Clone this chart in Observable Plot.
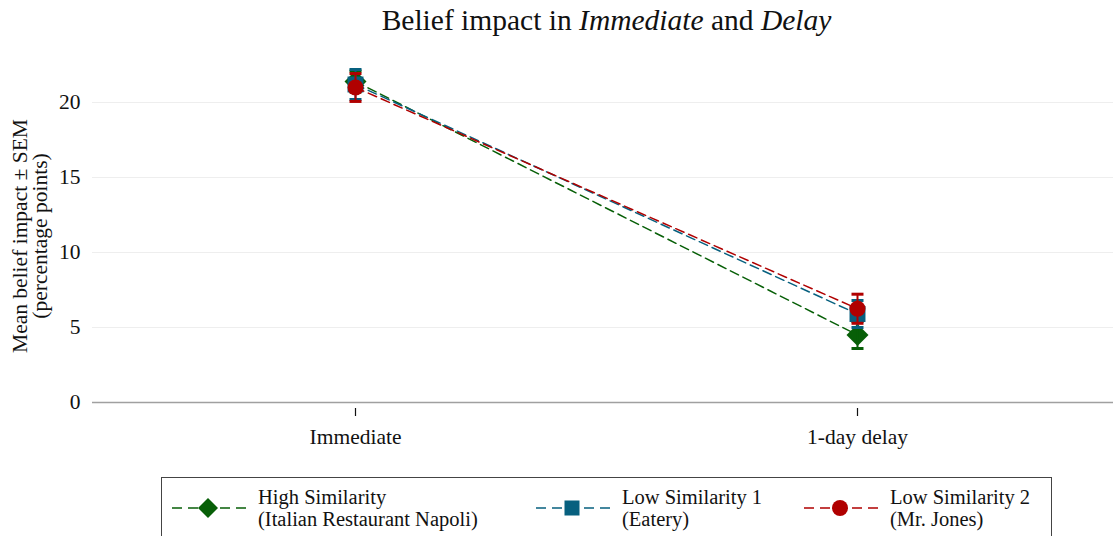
<!DOCTYPE html>
<html>
<head>
<meta charset="utf-8">
<script src="https://cdn.jsdelivr.net/npm/d3@7"></script>
<script src="https://cdn.jsdelivr.net/npm/@observablehq/plot@0.6"></script>
<style>
  html, body { margin: 0; padding: 0; background: #fff; }
  body { width: 1113px; height: 536px; position: relative; overflow: hidden; font-family: "Liberation Serif", "DejaVu Serif", serif; color: #111; }
  #title { position: absolute; top: 4px; left: 96px; width: 1021px; text-align: center; font-size: 29.5px; }
  #chart { position: absolute; top: 48px; left: 0; }
  #ylab { position: absolute; left: 30px; top: 236px; width: 400px; transform: translate(-50%, -50%) rotate(-90deg); text-align: center; font-size: 21.5px; line-height: 20px; }
  #legend { position: absolute; left: 161px; top: 477px; width: 891px; height: 70px; border: 1.5px solid #444; box-sizing: border-box; }
  .item { position: absolute; top: 8px; display: flex; align-items: center; }
  .item svg { display: block; }
  .item .txt { font-size: 20.5px; line-height: 22px; margin-left: 6px; white-space: nowrap; }
</style>
</head>
<body>
<div id="title">Belief impact in <i>Immediate</i> and <i>Delay</i></div>
<div id="ylab">Mean belief impact ± SEM<br>(percentage points)</div>
<div id="chart"></div>
<div id="legend"></div>
<script>
const categories = ["Immediate", "1-day delay"];
const seriesNames = ["High Similarity", "Low Similarity 1", "Low Similarity 2"];
const seriesSub = ["(Italian Restaurant Napoli)", "(Eatery)", "(Mr. Jones)"];
const seriesColors = ["#075f07", "#07607f", "#b00000"];
const seriesSymbols = ["diamond2", "square", "circle"];
const yTicks = [0, 5, 10, 15, 20];

const highMean = [21.4, 4.5];
const highSem = [0.7, 0.9];
const low1Mean = [21.2, 5.9];
const low1Sem = [1.0, 0.9];
const low2Mean = [21.0, 6.25];
const low2Sem = [0.93, 0.97];

const means = [highMean, low1Mean, low2Mean];
const sems = [highSem, low1Sem, low2Sem];

const rows = [];
seriesNames.forEach((s, i) => {
  categories.forEach((c, j) => {
    rows.push({series: s, idx: i, cat: c, mean: means[i][j], lo: means[i][j] - sems[i][j], hi: means[i][j] + sems[i][j]});
  });
});

const symR = {diamond2: 9.9, square: 9.0, circle: 8};
const capSymbol = {draw(ctx) { ctx.moveTo(-6, 0); ctx.lineTo(6, 0); }};

const marks = [
  Plot.ruleY(yTicks.filter(d => d > 0), {stroke: "#eeeeee", strokeWidth: 1}),
  Plot.ruleY([0], {stroke: "#a0a0a0", strokeWidth: 1.3}),
];
seriesNames.forEach((s, i) => {
  const data = rows.filter(r => r.idx === i);
  const col = seriesColors[i];
  marks.push(
    Plot.line(data, {x: "cat", y: "mean", stroke: col, strokeWidth: 1.5, strokeDasharray: "9,5"}),
    Plot.dot(data, {x: "cat", y: "mean", fill: col, stroke: "none", symbol: seriesSymbols[i], r: symR[seriesSymbols[i]]}),
    Plot.ruleX(data, {x: "cat", y1: "lo", y2: "hi", stroke: col, strokeWidth: 2}),
    Plot.dot(data, {x: "cat", y: "lo", symbol: capSymbol, stroke: col, strokeWidth: 3, fill: "none", r: 6}),
    Plot.dot(data, {x: "cat", y: "hi", symbol: capSymbol, stroke: col, strokeWidth: 3, fill: "none", r: 6})
  );
});
marks.push(
  Plot.axisY({ticks: yTicks, tickSize: 0, tickPadding: 12, label: null, fontSize: 21.5}),
  Plot.axisX({tickSize: 8, dy: 6, tickPadding: 12, label: null, fontSize: 21.5, strokeWidth: 1.2})
);

const chart = Plot.plot({
  width: 1113,
  height: 420,
  marginLeft: 92,
  marginRight: 0,
  marginTop: 9,
  marginBottom: 66,
  insetLeft: 12,
  insetRight: 5,
  style: {fontFamily: "'Liberation Serif', serif", fontSize: "21.5px", color: "#111", background: "transparent"},
  x: {type: "point", domain: categories, padding: 0.5},
  y: {domain: [0, 23]},
  marks
});
document.getElementById("chart").appendChild(chart);

// Legend
const legend = document.getElementById("legend");
const itemLefts = [8, 372, 640];
seriesNames.forEach((s, i) => {
  const item = document.createElement("div");
  item.className = "item";
  item.style.left = itemLefts[i] + "px";
  const col = seriesColors[i];
  let sym;
  if (seriesSymbols[i] === "diamond2") sym = `<path d="M38,12 L48,22 L38,32 L28,22 Z" fill="${col}"/>`;
  else if (seriesSymbols[i] === "square") sym = `<rect x="30.5" y="14.5" width="15" height="15" fill="${col}"/>`;
  else sym = `<circle cx="38" cy="22" r="8" fill="${col}"/>`;
  item.innerHTML = `<svg width="82" height="44"><line x1="2" y1="22" x2="80" y2="22" stroke="${col}" stroke-width="1.6" stroke-dasharray="10,6"/>${sym}</svg><div class="txt"><div>${s}</div><div>${seriesSub[i]}</div></div>`;
  legend.appendChild(item);
});
</script>
</body>
</html>
